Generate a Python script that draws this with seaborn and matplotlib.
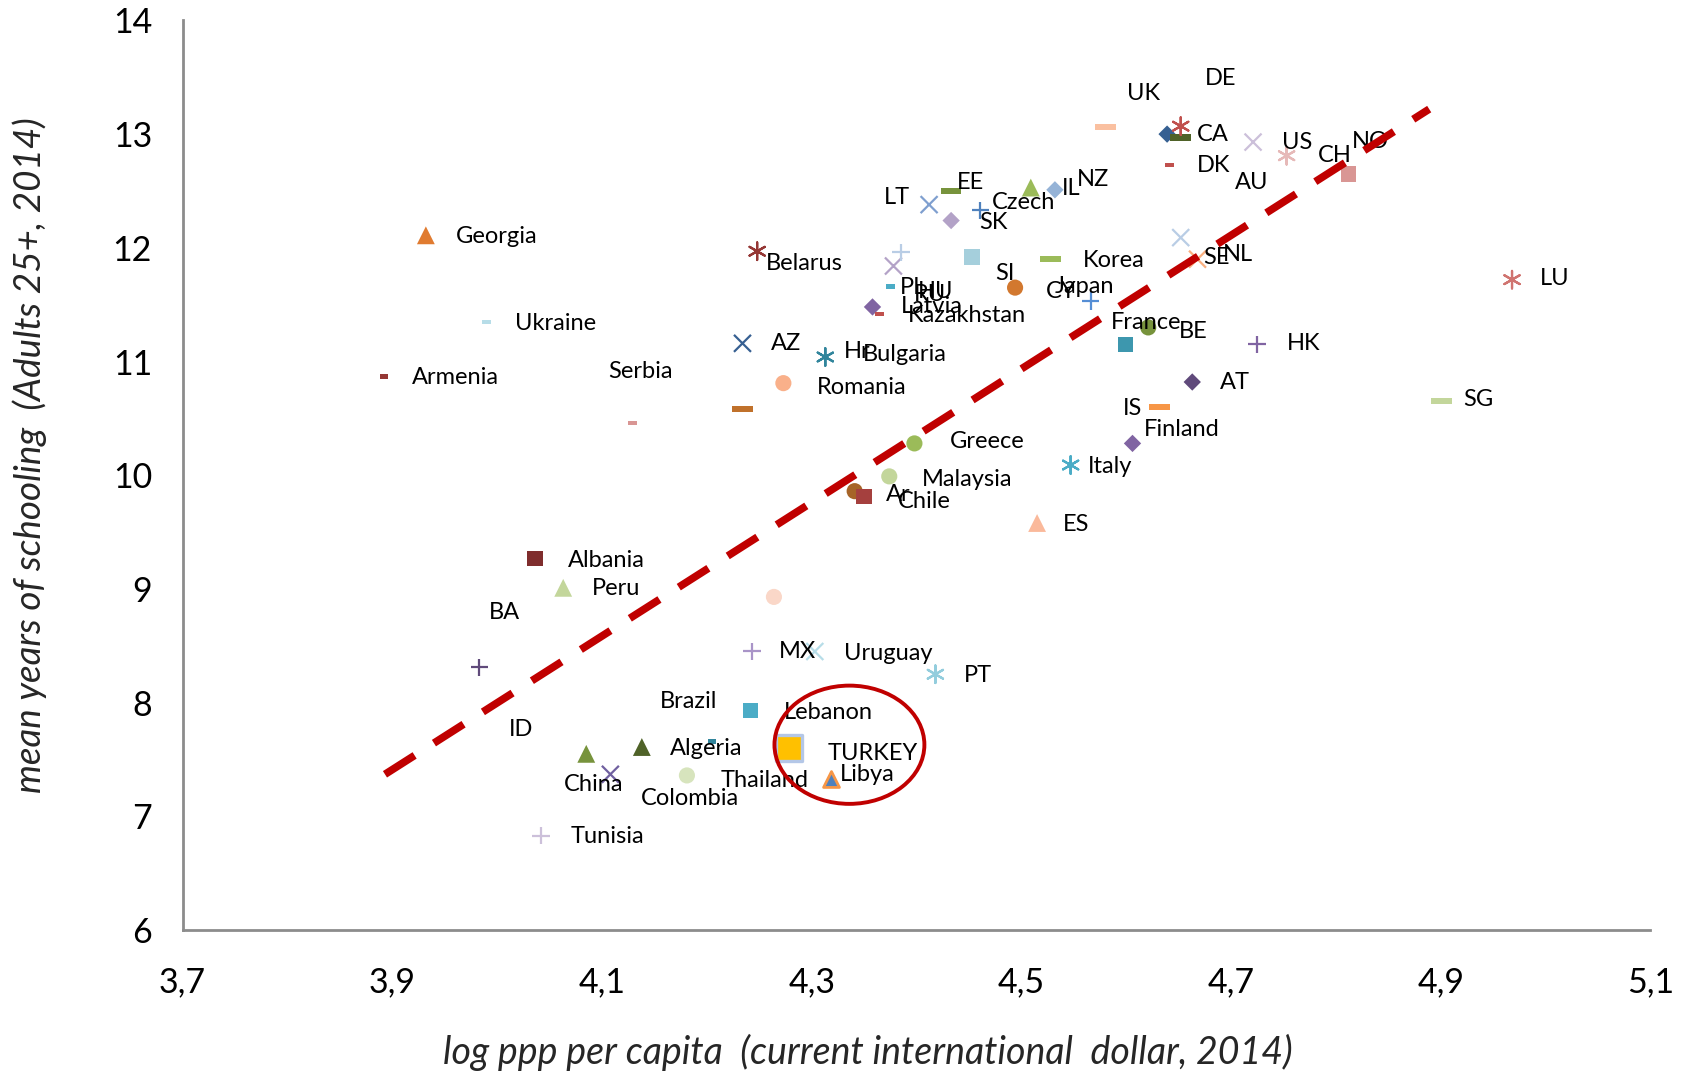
import numpy as np
import pandas as pd
import matplotlib.pyplot as plt
import seaborn as sns
from matplotlib.patches import Ellipse
from matplotlib.ticker import FuncFormatter

# data
countries = ["Georgia", "Ukraine", "Armenia", "Serbia", "_a", "Belarus", "AZ", "Hr", "Bulgaria",
             "Romania", "LT", "EE", "Czech", "SK", "IL", "NZ", "UK", "_b", "DE", "CA", "DK", "US",
             "AU", "CH", "NO", "NL", "SE", "LU", "SG", "HK", "AT", "IS", "Finland", "France", "BE",
             "Japan", "CY", "SI", "Korea", "RU", "HU", "PL", "Latvia", "Kazakhstan", "Greece",
             "Malaysia", "Ar", "Chile", "Italy", "ES", "Albania", "Peru", "_c", "BA", "MX",
             "Uruguay", "PT", "Brazil", "Lebanon", "TURKEY", "Libya", "Algeria", "_d", "China",
             "ID", "Colombia", "Thailand", "Tunisia"]
log_ppp = [3.932, 3.990, 3.892, 4.129, 4.234, 4.248, 4.234, 4.313, 4.313,
           4.273, 4.412, 4.433, 4.461, 4.433, 4.509, 4.532, 4.580, 4.639, 4.652, 4.652, 4.641, 4.721,
           4.753, 4.812, 4.812, 4.652, 4.668, 4.968, 4.901, 4.725, 4.663, 4.632, 4.606, 4.599, 4.621,
           4.566, 4.494, 4.453, 4.528, 4.385, 4.378, 4.375, 4.358, 4.365, 4.398,
           4.374, 4.341, 4.350, 4.547, 4.515, 4.036, 4.063, 4.264, 3.983, 4.243,
           4.303, 4.418, 4.242, 4.278, 4.278, 4.318, 4.138, 4.205, 4.085,
           4.108, 4.181, 4.181, 4.042]
schooling = [12.11, 11.35, 10.87, 10.46, 10.58, 11.97, 11.16, 11.04, 11.04,
             10.81, 12.38, 12.50, 12.33, 12.24, 12.53, 12.51, 13.06, 13.00, 13.07, 12.97, 12.73, 12.93,
             12.81, 12.65, 12.65, 12.09, 11.90, 11.72, 10.65, 11.15, 10.82, 10.60, 10.28, 11.15, 11.30,
             11.53, 11.65, 11.92, 11.90, 11.96, 11.84, 11.66, 11.48, 11.42, 10.28,
             9.99, 9.86, 9.81, 10.09, 9.58, 9.27, 9.01, 8.93, 8.31, 8.45,
             8.45, 8.25, 7.93, 7.60, 7.60, 7.33, 7.61, 7.66, 7.55,
             7.37, 7.36, 7.36, 6.83]

trend_x = [3.893, 4.889]
trend_y = [7.37, 13.22]

# marker kind / colour / label offset (reference px: right, down) per country
kinds = ["tri", "dash_s", "dash_s", "dash_s", "dash", "star", "x", "star", "none",
         "circle", "x", "dash", "plus", "diamond", "tri", "diamond", "dash", "diamond", "star", "dash", "dash_s", "x",
         "star", "square", "none", "x", "x", "star", "dash", "plus", "diamond", "dash", "diamond", "square", "circle",
         "plus", "circle", "square", "dash", "plus", "x", "dash_s", "diamond", "dash_s", "circle",
         "circle", "circle", "square", "star", "tri", "square", "tri", "circle", "plus", "plus",
         "x", "star", "square", "none", "turkey", "libya", "tri", "dash_s", "tri",
         "x", "circle", "none", "plus"]
colors = ["#E07B30", "#B7DDE8", "#953735", "#D99694", "#C0712B", "#953735", "#376092", "#31859C", "#000000",
          "#F9B08A", "#7F9FCF", "#77933C", "#4F81BD", "#B3A2C7", "#9BBB59", "#95B3D7", "#FAC0A0", "#366092",
          "#C0504D", "#4F6228", "#C0504D", "#CCC0DA",
          "#E6B9B8", "#D99694", "#000000", "#B9CDE5", "#FAB080", "#D07470", "#C3D69B", "#8064A2", "#604A7B",
          "#F79646", "#8064A2", "#3D97AE", "#77933C",
          "#558ED5", "#D2782F", "#A5CFDC", "#9BBB59", "#B9CDE5", "#B3A2C7", "#4BACC6", "#8064A2", "#C0504D",
          "#9BBB59",
          "#C3D69B", "#A66428", "#A5403E", "#4BACC6", "#FAB99B", "#7F2D2D", "#C3D69B", "#FAD7C8", "#604A7B",
          "#A994C8",
          "#B7DDE8", "#93CDDD", "#4BACC6", "#000000", "#FFC000", "#4F81BD", "#4F6228", "#31859C", "#77933C",
          "#7060A0", "#D7E4BD", "#000000", "#CCC0DA"]
offsets = [(28, 1), (26, 2), (26, 1), (-22, -48), None, (8, 11), (26, 0), (17, -5), (35, -2),
           (31, 4), (-42, -7), (5, -8), (11, -7), (26, 2), (29, 1), (20, -10), (20, -31), None, (22, -44),
           (15, -3), (26, 1), (27, 0),
           (-48, 25), (-28, -17), (3, -30), (39, 16), (5, -2), (26, -1), (20, -2), (27, -1), (26, 0),
           (-34, 1), (11, -13), (-13, -20), (28, 4),
           (-33, -14), (29, 4), (21, 15), (30, 1), (12, 39), (23, 24), (9, 1), (26, 0), (26, 2), (33, -2),
           (30, 3), (29, 3), (31, 4), (16, 1), (24, 1), (31, 2), (27, 1), None, (9, -51), (25, 0),
           (27, 2), (26, 1), (-84, -8), (-4, -33), (36, 5), (9, -4), (26, 1), None, (-21, 28),
           (-94, -42), (-43, 21), (31, 5), (27, 1)]

dash_path = [(-1, -0.3), (1, -0.3), (1, 0.3), (-1, 0.3), (-1, -0.3)]
dash_small = [(-1, -0.5), (1, -0.5), (1, 0.5), (-1, 0.5), (-1, -0.5)]
marker_styles = {
    "circle": dict(marker="o", s=135, linewidth=0),
    "square": dict(marker="s", s=120, linewidth=0),
    "diamond": dict(marker="D", s=78, linewidth=0),
    "tri": dict(marker="^", s=165, linewidth=0),
    "dash": dict(marker=dash_path, s=220, linewidth=0),
    "dash_s": dict(marker=dash_small, s=40, linewidth=0),
    "x": dict(marker="x", s=150, linewidth=1.6),
    "plus": dict(marker="+", s=160, linewidth=1.6),
    "star": dict(marker=(6, 2, 0), s=160, linewidth=1.6),
    "turkey": dict(marker="s", s=360, linewidth=2.4, edgecolor="#B4C7E7"),
    "libya": dict(marker="^", s=130, linewidth=2.0, edgecolor="#F79646"),
}

df = pd.DataFrame({"country": countries, "log_ppp": log_ppp, "schooling": schooling,
                   "kind": kinds})
palette = dict(zip(countries, colors))

sns.set_style("white")
plt.rcParams["font.family"] = ["Lato", "DejaVu Sans"]

fig = plt.figure(figsize=(16.91, 10.74), dpi=100)
ax = fig.add_axes([0.108, 0.134, 0.868, 0.847])

for kind, style in marker_styles.items():
    sub = df[df["kind"] == kind]
    if sub.empty:
        continue
    kw = dict(style)
    if kw.get("linewidth", 0) == 0:
        kw["edgecolor"] = "none"
    sns.scatterplot(data=sub, x="log_ppp", y="schooling", hue="country", palette=palette,
                    legend=False, ax=ax, zorder=3, **kw)

# country labels
scale = 1691 / 1568
for name, x, y, off in zip(countries, log_ppp, schooling, offsets):
    if off is None:
        continue
    ax.annotate(name, (x, y), xytext=(off[0] * scale, -off[1] * scale),
                textcoords="offset pixels", ha="left", va="center",
                fontsize=17, color="black", zorder=4)

# trend line
ax.plot(trend_x, trend_y, color="#C00000", linewidth=5.5, dashes=(4.6, 3.0),
        solid_capstyle="butt", dash_capstyle="butt", zorder=5)

# highlight around Turkey
ax.add_patch(Ellipse((4.336, 7.63), 0.143, 1.04, fill=False, edgecolor="#C00000",
                     linewidth=2.8, zorder=6))

ax.set_xlim(3.7, 5.1)
ax.set_ylim(6, 14)
ax.set_xticks(np.arange(3.7, 5.11, 0.2))
ax.set_yticks(range(6, 15))
ax.xaxis.set_major_formatter(FuncFormatter(lambda v, _: f"{v:.1f}".replace(".", ",")))
ax.yaxis.set_major_formatter(FuncFormatter(lambda v, _: f"{int(round(v))}"))

for side in ["top", "right"]:
    ax.spines[side].set_visible(False)
for side in ["left", "bottom"]:
    ax.spines[side].set_color("#8C8C8C")
    ax.spines[side].set_linewidth(2)
ax.tick_params(axis="both", which="major", direction="out", length=8, width=1.6,
               color="#8C8C8C", labelsize=24.5, labelcolor="black")
ax.tick_params(axis="y", pad=14)
ax.tick_params(axis="x", pad=18)

ax.set_xlabel("log ppp per capita  (current international  dollar, 2014)",
              fontsize=27, style="italic", va="center")
ax.set_ylabel("mean years of schooling  (Adults 25+, 2014)",
              fontsize=26.5, style="italic", va="center")
ax.xaxis.set_label_coords(0.467, -0.134)
ax.yaxis.set_label_coords(-0.104, 0.522)

fig.savefig("out.png", dpi=100, facecolor="white")
